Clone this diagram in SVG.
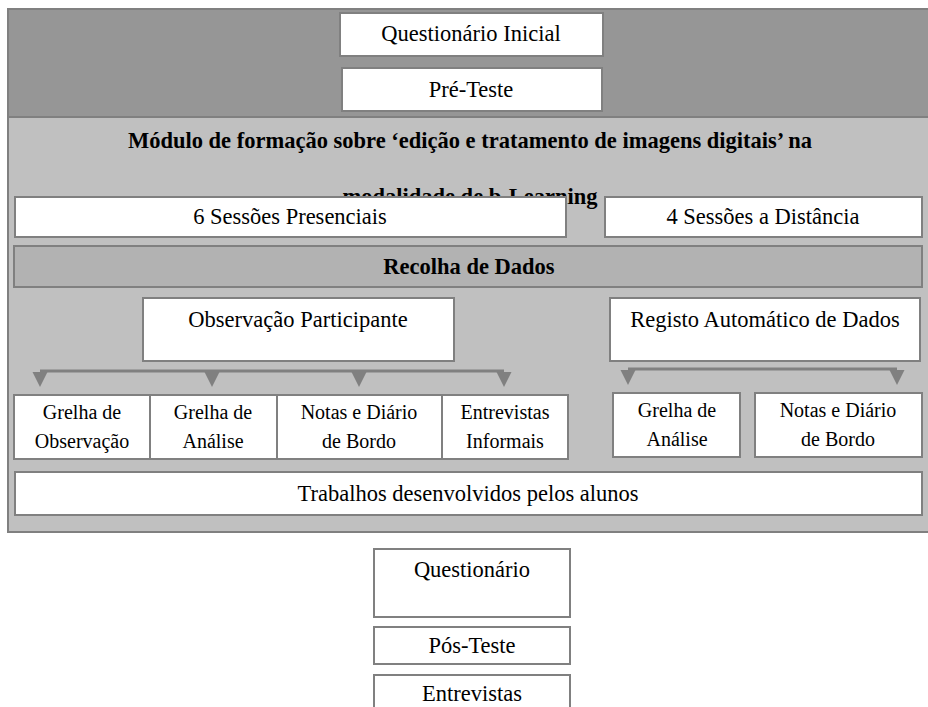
<svg xmlns="http://www.w3.org/2000/svg" width="928" height="707" viewBox="0 0 928 707">
<style>
.box{fill:#ffffff;stroke:#808080;stroke-width:2}
.t{font-family:"Liberation Serif","Times New Roman",serif;font-size:22.5px;fill:#000;text-anchor:middle}
.s{font-size:20px}
.b{font-weight:bold}
.conn{stroke:#808080;stroke-width:3;fill:none}
.head{fill:#808080}
</style>
<rect width="928" height="707" fill="#ffffff"/>
<g id="frame">
<rect x="8" y="9" width="930" height="108" fill="#969696" stroke="#808080" stroke-width="2"/>
<rect x="8" y="117" width="930" height="415" fill="#c0c0c0" stroke="#808080" stroke-width="2"/>
</g>
<g id="questionario-inicial"><rect class="box" x="340" y="13" width="263" height="43"/><text class="t" x="471" y="41">Questionário Inicial</text></g>
<g id="pre-teste"><rect class="box" x="342" y="68" width="260" height="43"/><text class="t" x="471" y="97">Pré-Teste</text></g>
<g id="modulo"><text class="t b" x="470" y="148">Módulo de formação sobre ‘edição e tratamento de imagens digitais’ na</text><text class="t b" x="470" y="204">modalidade de b-Learning</text></g>
<g id="sessoes-presenciais"><rect class="box" x="15" y="197" width="551" height="40"/><text class="t" x="290" y="224">6 Sessões Presenciais</text></g>
<g id="sessoes-distancia"><rect class="box" x="605" y="197" width="317" height="40"/><text class="t" x="763" y="224">4 Sessões a Distância</text></g>
<g id="recolha"><rect x="14" y="246" width="908" height="41" fill="#b2b2b2" stroke="#808080" stroke-width="2"/><text class="t b" x="469" y="274">Recolha de Dados</text></g>
<g id="observacao"><rect class="box" x="143" y="298" width="311" height="63"/><text class="t" x="298" y="327">Observação Participante</text></g>
<g id="registo"><rect class="box" x="610" y="298" width="310" height="63"/><text class="t" x="765" y="327">Registo Automático de Dados</text></g>
<g id="connectors">
<line class="conn" x1="40" y1="371" x2="504" y2="371"/>
<polygon class="head" points="32.5,372 47.5,372 40,387"/>
<polygon class="head" points="204.5,372 219.5,372 212,387"/>
<polygon class="head" points="351.5,372 366.5,372 359,387"/>
<polygon class="head" points="496.5,372 511.5,372 504,387"/>
<line class="conn" x1="628" y1="369" x2="897" y2="369"/>
<polygon class="head" points="620.5,370 635.5,370 628,385"/>
<polygon class="head" points="889.5,370 904.5,370 897,385"/>
</g>
<g id="grelha-observacao"><rect class="box" x="14" y="395" width="136" height="64"/><text class="t s" x="82" y="419">Grelha de</text><text class="t s" x="82" y="448">Observação</text></g>
<g id="grelha-analise-1"><rect class="box" x="150" y="395" width="127" height="64"/><text class="t s" x="213" y="419">Grelha de</text><text class="t s" x="213" y="448">Análise</text></g>
<g id="notas-1"><rect class="box" x="277" y="395" width="165" height="64"/><text class="t s" x="359" y="419">Notas e Diário</text><text class="t s" x="359" y="448">de Bordo</text></g>
<g id="entrevistas-informais"><rect class="box" x="442" y="395" width="126" height="64"/><text class="t s" x="505" y="419">Entrevistas</text><text class="t s" x="505" y="448">Informais</text></g>
<g id="grelha-analise-2"><rect class="box" x="613" y="393" width="127" height="64"/><text class="t s" x="677" y="417">Grelha de</text><text class="t s" x="677" y="446">Análise</text></g>
<g id="notas-2"><rect class="box" x="755" y="393" width="167" height="64"/><text class="t s" x="838" y="417">Notas e Diário</text><text class="t s" x="838" y="446">de Bordo</text></g>
<g id="trabalhos"><rect class="box" x="15" y="472" width="907" height="43"/><text class="t" x="468" y="501">Trabalhos desenvolvidos pelos alunos</text></g>
<g id="questionario"><rect class="box" x="374" y="549" width="196" height="68"/><text class="t" x="472" y="577">Questionário</text></g>
<g id="pos-teste"><rect class="box" x="374" y="627" width="196" height="37"/><text class="t" x="472" y="653">Pós-Teste</text></g>
<g id="entrevistas"><rect class="box" x="374" y="675" width="196" height="40"/><text class="t" x="472" y="701">Entrevistas</text></g>
</svg>
